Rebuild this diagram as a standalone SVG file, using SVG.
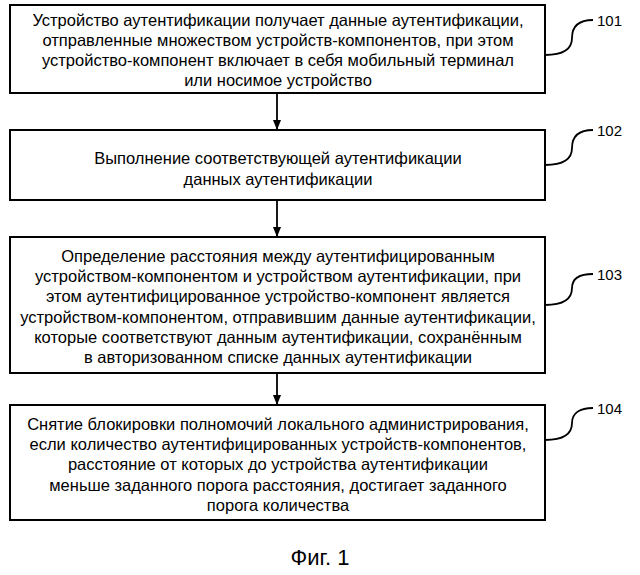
<svg xmlns="http://www.w3.org/2000/svg" width="640" height="575" viewBox="0 0 640 575">
<style>
.b{fill:#fff;stroke:#000;stroke-width:2}
.t{font-family:"Liberation Sans",Arial,sans-serif;font-size:16.5px;fill:#000;text-anchor:middle}
.n{font-family:"Liberation Sans",Arial,sans-serif;font-size:15px;fill:#000}
.c{fill:none;stroke:#000;stroke-width:1.8}
</style>
<defs><marker id="a" markerWidth="10" markerHeight="10" refX="9" refY="5" orient="auto" markerUnits="userSpaceOnUse"><path d="M0,1 L10,5 L0,9 Z" fill="#000"/></marker></defs>
<g id="n1"><rect class="b" x="10" y="5" width="535" height="88"/>
<text class="t" x="278" y="26">Устройство аутентификации получает данные аутентификации,</text>
<text class="t" x="278" y="46">отправленные множеством устройств-компонентов, при этом</text>
<text class="t" x="278" y="66">устройство-компонент включает в себя мобильный терминал</text>
<text class="t" x="278" y="86">или носимое устройство</text></g>
<g id="n2"><rect class="b" x="10" y="130" width="535" height="70"/>
<text class="t" x="278" y="164">Выполнение соответствующей аутентификации</text>
<text class="t" x="278" y="185">данных аутентификации</text></g>
<g id="n3"><rect class="b" x="10" y="237" width="535" height="136"/>
<text class="t" x="278" y="262">Определение расстояния между аутентифицированным</text>
<text class="t" x="278" y="282">устройством-компонентом и устройством аутентификации, при</text>
<text class="t" x="278" y="302">этом аутентифицированное устройство-компонент является</text>
<text class="t" x="278" y="323">устройством-компонентом, отправившим данные аутентификации,</text>
<text class="t" x="278" y="343">которые соответствуют данным аутентификации, сохранённым</text>
<text class="t" x="278" y="363">в авторизованном списке данных аутентификации</text></g>
<g id="n4"><rect class="b" x="10" y="405" width="535" height="115"/>
<text class="t" x="278" y="430">Снятие блокировки полномочий локального администрирования,</text>
<text class="t" x="278" y="450">если количество аутентифицированных устройств-компонентов,</text>
<text class="t" x="278" y="470">расстояние от которых до устройства аутентификации</text>
<text class="t" x="278" y="491">меньше заданного порога расстояния, достигает заданного</text>
<text class="t" x="278" y="511">порога количества</text></g>
<g id="labels">
<text class="n" x="597" y="26">101</text>
<text class="n" x="597" y="136">102</text>
<text class="n" x="597" y="280">103</text>
<text class="n" x="597" y="414">104</text></g>
<g id="connectors">
<line class="c" x1="277" y1="93" x2="277" y2="129" marker-end="url(#a)"/>
<line class="c" x1="277" y1="200" x2="277" y2="236" marker-end="url(#a)"/>
<line class="c" x1="277" y1="373" x2="277" y2="404" marker-end="url(#a)"/>
<path class="c" d="M545,55 C565,55 572,48 572,38 C572,25 580,20 593,20"/>
<path class="c" d="M545,165 C565,165 572,158 572,148 C572,135 580,130 593,130"/>
<path class="c" d="M545,305 C565,305 572,298 572,288 C572,278 580,274 593,274"/>
<path class="c" d="M545,440 C565,440 572,433 572,423 C572,413 580,408 593,408"/>
</g>
<text class="t" x="320" y="565" style="font-size:22px">Фиг. 1</text>
</svg>
